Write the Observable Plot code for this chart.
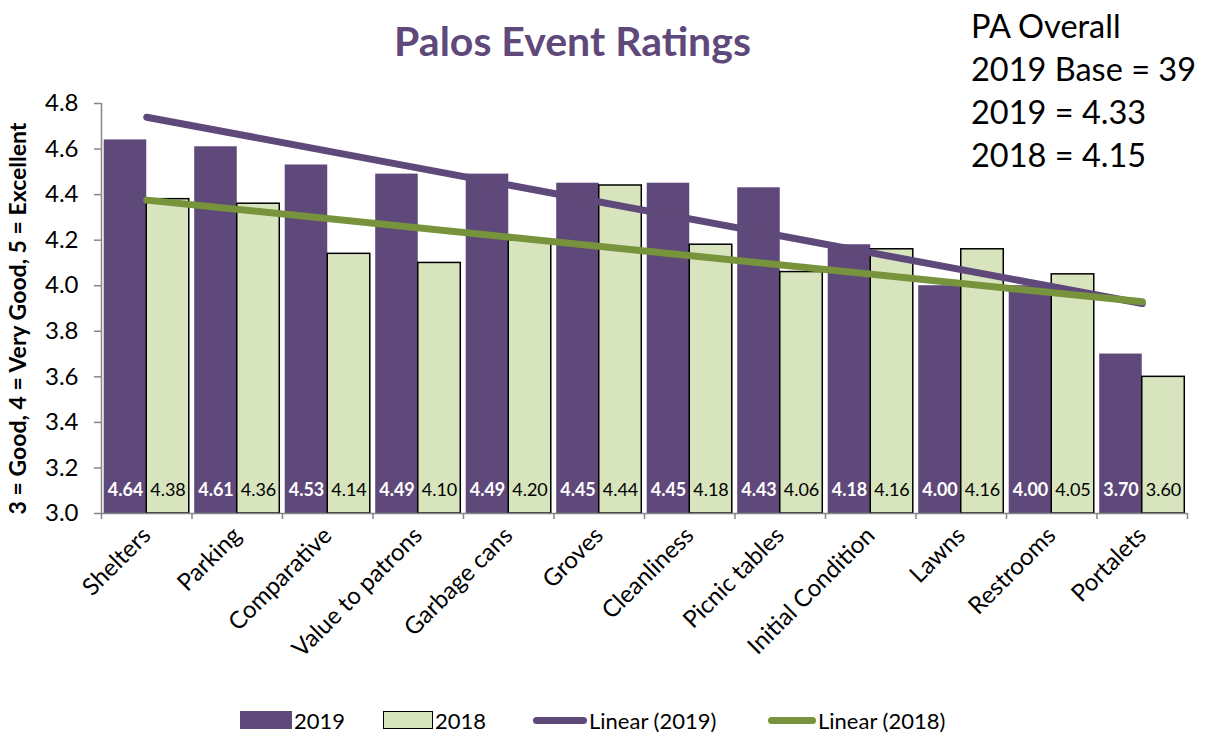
<!DOCTYPE html>
<html>
<head>
<meta charset="utf-8">
<script src="https://cdn.jsdelivr.net/npm/d3@7"></script>
<script src="https://cdn.jsdelivr.net/npm/@observablehq/plot@0.6"></script>
<style>
  html, body { margin: 0; padding: 0; background: #fff; }
  #wrap { position: relative; width: 1206px; height: 734px; font-family: Lato, "Open Sans", sans-serif; }
  #chart { position: absolute; left: 0; top: 0; }
  #title { position: absolute; left: 0; width: 1145px; top: 16px; text-align: center; font-size: 41px; font-weight: bold; color: #5f497a; }
  #info { position: absolute; left: 971px; top: 4px; font-size: 32.5px; line-height: 43px; color: #000; }
  #legend { position: absolute; left: 240px; top: 707px; height: 26px; font-size: 22px; color: #000; }
  .item { position: absolute; top: 0; display: flex; align-items: center; height: 26px; white-space: nowrap; }
  .sw { display: inline-block; margin-right: 2px; box-sizing: border-box; }
</style>
</head>
<body>
<div id="wrap">
  <div id="chart"></div>
  <div id="title">Palos Event Ratings</div>
  <div id="info">PA Overall<br>2019 Base = 39<br>2019 = 4.33<br>2018 = 4.15</div>
  <div id="legend">
    <div class="item" style="left:0px"><span class="sw" style="width:52px;height:18px;background:#5f497a"></span>2019</div>
    <div class="item" style="left:143px"><span class="sw" style="width:50px;height:18px;background:#d7e4bd;border:1.5px solid #000"></span>2018</div>
    <div class="item" style="left:293px"><span class="sw" style="width:54px;height:7px;border-radius:4px;background:#5f497a"></span>Linear (2019)</div>
    <div class="item" style="left:528px"><span class="sw" style="width:48px;height:7px;border-radius:4px;background:#77933c"></span>Linear (2018)</div>
  </div>
</div>
<script>
const categories = ["Shelters","Parking","Comparative","Value to patrons","Garbage cans","Groves","Cleanliness","Picnic tables","Initial Condition","Lawns","Restrooms","Portalets"];
const values2019 = [4.64,4.61,4.53,4.49,4.49,4.45,4.45,4.43,4.18,4.00,4.00,3.70];
const values2018 = [4.38,4.36,4.14,4.10,4.20,4.44,4.18,4.06,4.16,4.16,4.05,3.60];
const yTicks = [3.0,3.2,3.4,3.6,3.8,4.0,4.2,4.4,4.6,4.8];
const yLabel = "3 = Good, 4 = Very Good, 5 = Excellent";

const purple = "#5f497a", lightGreen = "#d7e4bd", green = "#77933c", axisGray = "#868686";

const d19 = values2019.map((v, k) => ({i: k + 1, v, c: categories[k]}));
const d18 = values2018.map((v, k) => ({i: k + 1, v, c: categories[k]}));
const boundaries = d3.range(0, categories.length + 1).map(k => k + 0.5);

const chart = Plot.plot({
  width: 1206,
  height: 734,
  marginLeft: 101,
  marginRight: 19,
  marginTop: 103,
  marginBottom: 221,
  style: {fontFamily: "Lato, 'Open Sans', sans-serif", background: "transparent"},
  x: {type: "linear", domain: [0.5, categories.length + 0.5]},
  y: {type: "linear", domain: [3, 4.8]},
  marks: [
    Plot.rectY(d19, {x1: d => d.i - 0.47, x2: d => d.i, y1: () => 3, y2: "v", fill: purple}),
    Plot.rectY(d18, {x1: d => d.i, x2: d => d.i + 0.47, y1: () => 3, y2: "v", fill: lightGreen, stroke: "#000", strokeWidth: 1.5}),
    Plot.text(d19, {x: d => d.i - 0.235, y: () => 3, dy: -23, text: d => d.v.toFixed(2), fill: "#fff", fontWeight: "bold", fontSize: 18}),
    Plot.text(d18, {x: d => d.i + 0.235, y: () => 3, dy: -23, text: d => d.v.toFixed(2), fill: "#000", fontSize: 18}),
    Plot.linearRegressionY(d19, {x: "i", y: "v", ci: 0, stroke: purple, strokeWidth: 7, strokeLinecap: "round"}),
    Plot.linearRegressionY(d18, {x: "i", y: "v", ci: 0, stroke: green, strokeWidth: 7, strokeLinecap: "round"}),
    Plot.ruleY([3], {stroke: axisGray, strokeWidth: 1.5}),
    Plot.ruleX([0.5], {stroke: axisGray, strokeWidth: 1.5}),
    Plot.axisX({ticks: boundaries, tickFormat: () => "", tickSize: 6, stroke: axisGray, strokeWidth: 1.5, label: null}),
    Plot.axisY({ticks: yTicks, tickFormat: d => d.toFixed(1), tickSize: 7, stroke: axisGray, strokeWidth: 1.5, fontSize: 24, fill: "#000", tickPadding: 16, label: null}),
    Plot.axisX({ticks: d3.range(1, categories.length + 1), tickFormat: d => categories[d - 1], tickSize: 0, tickRotate: -45, fontSize: 24, fill: "#000", tickPadding: 18, label: null}),
    Plot.text([yLabel], {frameAnchor: "left", textAnchor: "middle", rotate: -90, dx: -83, dy: 10, text: d => d, fontWeight: "bold", fontSize: 23, fill: "#000", style: {letterSpacing: "0.4px"}})
  ]
});
document.getElementById("chart").appendChild(chart);
</script>
</body>
</html>
